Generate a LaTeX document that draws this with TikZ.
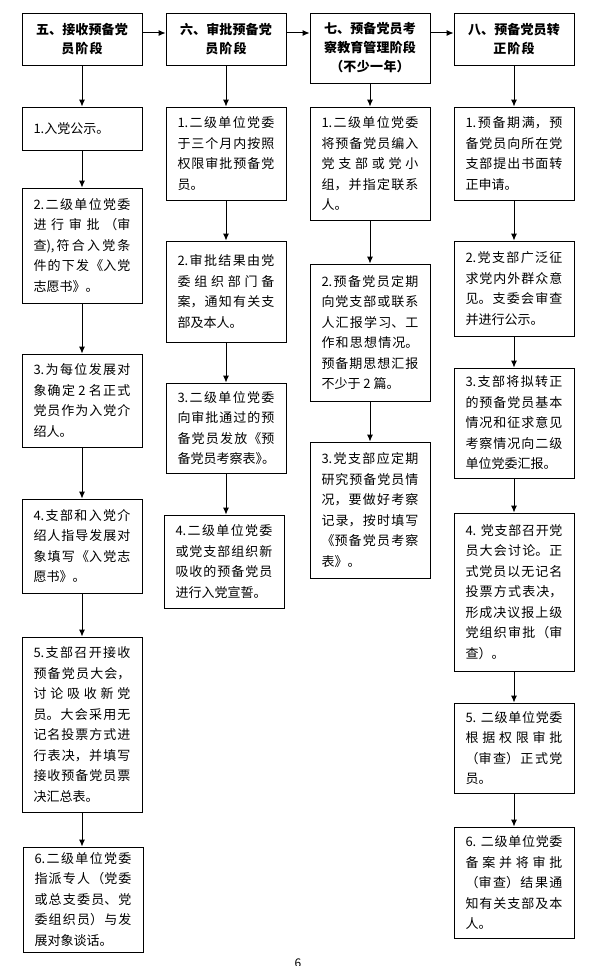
\documentclass[tikz,border=0pt]{standalone}
\usepackage{fontspec}
\setmainfont{Noto Sans CJK SC}
\newfontfamily\halffont{Noto Sans CJK SC}[RawFeature=+halt]
\XeTeXlinebreaklocale "zh"
\XeTeXlinebreakskip=0pt plus 4pt
\usetikzlibrary{arrows.meta}
\begin{document}
\begin{tikzpicture}[x=1pt,y=-1pt,line width=.8pt,>={Latex[length=7pt,width=6pt]},
 font=\fontsize{13}{20.5}\selectfont,
 phasebox/.style={draw,text width=97pt,inner xsep=11.5pt,align=center,
  font={\bfseries\fontsize{13}{19}\selectfont\XeTeXlinebreakskip=0pt plus 1pt\relax}},
 taskbox/.style={draw,text width=97pt,inner xsep=11.5pt,align=justify,
  font={\fontsize{13}{20.5}\selectfont\tolerance=9999\relax}}]
\useasboundingbox (0,0) rectangle (598,966);
% stage headers
\node[phasebox,minimum height=52pt] (h5) at (82,39) {五、接收预备党\\员阶段};
\node[phasebox,minimum height=52pt] (h6) at (226,39) {六、审批预备党\\员阶段};
\node[phasebox,minimum height=70pt] (h7) at (370,48) {七、预备党员考\\察教育管理阶段\\（不少一年）};
\node[phasebox,minimum height=52pt] (h8) at (514,39) {八、预备党员转\\正阶段};
\coordinate (top) at (0,33);
\foreach \a/\b in {h5/h6,h6/h7,h7/h8}{\draw[->,line width=1pt] (\a.east |- top) -- (\b.west |- top);}
% column five
\node[taskbox,minimum height=43pt] (b11) at (82,128.5) {1.入党公示。};
\node[taskbox,minimum height=115pt] (b12) at (82,245.5) {2.二级单位党委\linebreak
进行审批（审\linebreak
查),符合入党条\linebreak
件的下发《入党\linebreak
志愿书》。};
\node[taskbox,minimum height=93pt] (b13) at (82,400.5) {3.为每位发展对\linebreak
象确定 2 名正式\linebreak
党员作为入党介\linebreak
绍人。};
\node[taskbox,minimum height=94pt] (b14) at (82,546) {4.支部和入党介\linebreak
绍人指导发展对\linebreak
象填写《入党志\linebreak
愿书》。};
\node[taskbox,minimum height=175pt] (b15) at (82,724.5) {5.支部召开接收\linebreak
预备党员大会，\linebreak
讨论吸收新党\linebreak
员。大会采用无\linebreak
记名投票方式进\linebreak
行表决，并填写\linebreak
接收预备党员票\linebreak
决汇总表。};
\node[taskbox,minimum height=105pt] (b16) at (83,899.5) {6.二级单位党委\linebreak
指派专人（党委\linebreak
或总支委员、党\linebreak
委组织员）与发\linebreak
展对象谈话。};
% column six
\node[taskbox,minimum height=93pt] (b21) at (226,153.5) {1.二级单位党委\linebreak
于三个月内按照\linebreak
权限审批预备党\linebreak
员。};
\node[taskbox,minimum height=101pt] (b22) at (226,291.5) {2.审批结果由党\linebreak
委组织部门备\linebreak
案，通知有关支\linebreak
部及本人。};
\node[taskbox,minimum height=90pt] (b23) at (226,428) {3.二级单位党委\linebreak
向审批通过的预\linebreak
备党员发放《预\linebreak
备党员考察表{\halffont 》。}};
\node[taskbox,minimum height=93pt] (b24) at (224,561.5) {4.二级单位党委\linebreak
或党支部组织新\linebreak
吸收的预备党员\linebreak
进行入党宣誓。};
% column seven
\node[taskbox,minimum height=113pt] (b31) at (370,163.5) {1.二级单位党委\linebreak
将预备党员编入\linebreak
党支部或党小\linebreak
组，并指定联系\linebreak
人。};
\node[taskbox,minimum height=137pt] (b32) at (370,332.5) {2.预备党员定期\linebreak
向党支部或联系\linebreak
人汇报学习、工\linebreak
作和思想情况。\linebreak
预备期思想汇报\linebreak
不少于 2 篇。};
\node[taskbox,minimum height=136pt] (b33) at (370,510) {3.党支部应定期\linebreak
研究预备党员情\linebreak
况，要做好考察\linebreak
记录，按时填写\linebreak
《预备党员考察\linebreak
表》。};
% column eight
\node[taskbox,minimum height=93pt] (b41) at (514,153.5) {1.预备期满，预\linebreak
备党员向所在党\linebreak
支部提出书面转\linebreak
正申请。};
\node[taskbox,minimum height=95pt] (b42) at (514,288.5) {2.党支部广泛征\linebreak
求党内外群众意\linebreak
见。支委会审查\linebreak
并进行公示。};
\node[taskbox,minimum height=110pt] (b43) at (514,423) {3.支部将拟转正\linebreak
的预备党员基本\linebreak
情况和征求意见\linebreak
考察情况向二级\linebreak
单位党委汇报。};
\node[taskbox,minimum height=158pt] (b44) at (514,592) {4. 党支部召开党\linebreak
员大会讨论。正\linebreak
式党员以无记名\linebreak
投票方式表决，\linebreak
形成决议报上级\linebreak
党组织审批（审\linebreak
查）。};
\node[taskbox,minimum height=90pt] (b45) at (514,748) {5. 二级单位党委\linebreak
根据权限审批\linebreak
（审查）正式党\linebreak
员。};
\node[taskbox,minimum height=111pt] (b46) at (514,882.5) {6. 二级单位党委\linebreak
备案并将审批\linebreak
（审查）结果通\linebreak
知有关支部及本\linebreak
人。};
% downward arrows
\foreach \a/\b in {h5/b11,b11/b12,b12/b13,b13/b14,b14/b15,b15/b16,
 h6/b21,b21/b22,b22/b23,b23/b24,h7/b31,b31/b32,b32/b33,
 h8/b41,b41/b42,b42/b43,b43/b44,b44/b45,b45/b46}{
 \draw[->,line width=1pt] (\a.south) -- (\a.south |- \b.north);}
\node[anchor=north,font=\fontsize{12}{12}\selectfont] (pg) at (298,955) {6};
\end{tikzpicture}
\end{document}
